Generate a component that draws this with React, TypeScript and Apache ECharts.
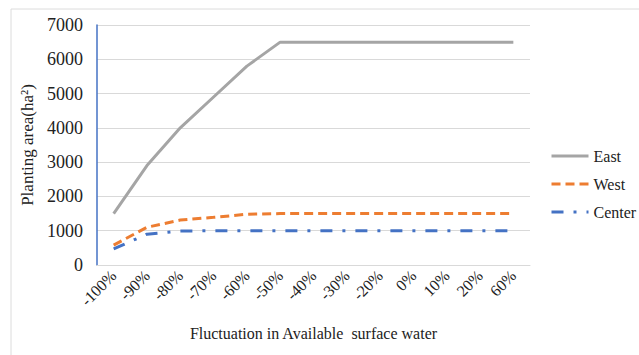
import React, { useEffect, useRef } from "react";
import * as echarts from "echarts";

const categories = ["-100%", "-90%", "-80%", "-70%", "-60%", "-50%", "-40%", "-30%", "-20%", "0%", "10%", "20%", "60%"];
const eastValues = [1500, 2900, 4000, 4900, 5800, 6500, 6500, 6500, 6500, 6500, 6500, 6500, 6500];
const westValues = [580, 1100, 1310, 1390, 1480, 1500, 1500, 1500, 1500, 1500, 1500, 1500, 1500];
const centerValues = [470, 900, 990, 1000, 1000, 1000, 1000, 1000, 1000, 1000, 1000, 1000, 1000];

const FONT = "Times New Roman, Liberation Serif, DejaVu Serif, serif";

export default function App() {
  const ref = useRef<HTMLDivElement>(null);
  useEffect(() => {
    const chart = echarts.init(ref.current!, null, { renderer: "svg" });
    chart.setOption({
      animation: false,
      backgroundColor: "#ffffff",
      textStyle: { fontFamily: FONT },
      graphic: [
        {
          type: "rect",
          shape: { x: 11, y: 9, width: 640, height: 360 },
          style: { fill: "none", stroke: "#dcdcdc", lineWidth: 1 },
          silent: true,
        },
      ],
      grid: { left: 97, right: 109, top: 25, bottom: 90 },
      legend: {
        orient: "vertical",
        left: 545,
        top: 143,
        itemWidth: 37,
        itemHeight: 14,
        itemGap: 12,
        itemStyle: { opacity: 0 },
        lineStyle: { width: 3 },
        textStyle: { fontFamily: FONT, fontSize: 16, color: "#222" },
        data: ["East", "West", "Center"],
      },
      xAxis: {
        type: "category",
        data: categories,
        boundaryGap: true,
        axisLine: { show: true, lineStyle: { color: "#d9d9d9", width: 1 } },
        axisTick: { show: false },
        axisLabel: {
          rotate: 45,
          interval: 0,
          fontFamily: FONT,
          fontSize: 16,
          color: "#222",
          margin: 8,
        },
        name: "Fluctuation in Available  surface water",
        nameLocation: "middle",
        nameGap: 60,
        nameTextStyle: { fontFamily: FONT, fontSize: 16, color: "#222" },
      },
      yAxis: {
        type: "value",
        min: 0,
        max: 7000,
        interval: 1000,
        axisLine: { show: true, lineStyle: { color: "#4472c4", width: 1.5 } },
        axisTick: { show: false },
        splitLine: { lineStyle: { color: "#d9d9d9", width: 1 } },
        axisLabel: { fontFamily: FONT, fontSize: 18, color: "#222", margin: 14, formatter: (v: number) => String(v) },
        name: "Planting area(ha²)",
        nameLocation: "middle",
        nameGap: 58,
        nameTextStyle: { fontFamily: FONT, fontSize: 17, color: "#222" },
      },
      series: [
        {
          name: "East",
          type: "line",
          data: eastValues,
          symbol: "none",
          lineStyle: { color: "#a5a5a5", width: 3 },
          itemStyle: { color: "#a5a5a5" },
        },
        {
          name: "West",
          type: "line",
          data: westValues,
          symbol: "none",
          lineStyle: { color: "#ed7d31", width: 3, type: [9, 5] },
          itemStyle: { color: "#ed7d31" },
        },
        {
          name: "Center",
          type: "line",
          data: centerValues,
          symbol: "none",
          lineStyle: { color: "#4472c4", width: 3, type: [12, 10, 3, 10] },
          itemStyle: { color: "#4472c4" },
        },
      ],
    });
    return () => chart.dispose();
  }, []);
  return (
    <div
      ref={ref}
      style={{ position: "fixed", left: 0, top: 0, width: 639, height: 355 }}
    />
  );
}
